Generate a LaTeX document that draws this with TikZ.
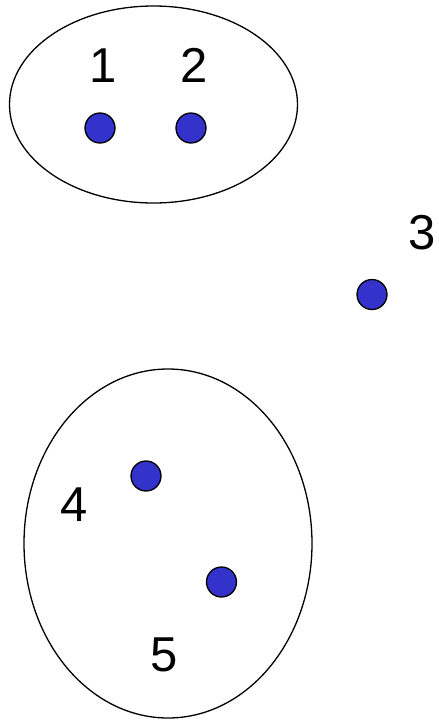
\documentclass[tikz,border=0pt]{standalone}
\usepackage{fontspec}
\setmainfont{Liberation Sans}
\definecolor{dotblue}{HTML}{3333CC}
\begin{document}
\begin{tikzpicture}[x=1pt,y=-1pt,
  dot/.style={circle,draw=black,line width=1.3pt,fill=dotblue,minimum size=30pt,inner sep=0pt},
  lab/.style={inner sep=0pt,font=\fontsize{49}{49}\selectfont},
  grp/.style={draw=black,line width=1.3pt}]
\useasboundingbox (0,0) rectangle (439,721);
\draw[grp] (153.5,104.5) ellipse [x radius=144, y radius=98.5];
\draw[grp] (168,543.5) ellipse [x radius=144, y radius=174.5];
\node[dot] (d1) at (100,128) {};
\node[dot] (d2) at (191,128) {};
\node[dot] (d3) at (372,294.5) {};
\node[dot] (d4) at (146,476) {};
\node[dot] (d5) at (221.5,582) {};
\node[lab] (l1) at (103,65.5) {1};
\node[lab] (l2) at (194,65.5) {2};
\node[lab] (l3) at (422.5,232.5) {3};
\node[lab] (l4) at (73.7,504.5) {4};
\node[lab] (l5) at (164,655) {5};
\end{tikzpicture}
\end{document}
